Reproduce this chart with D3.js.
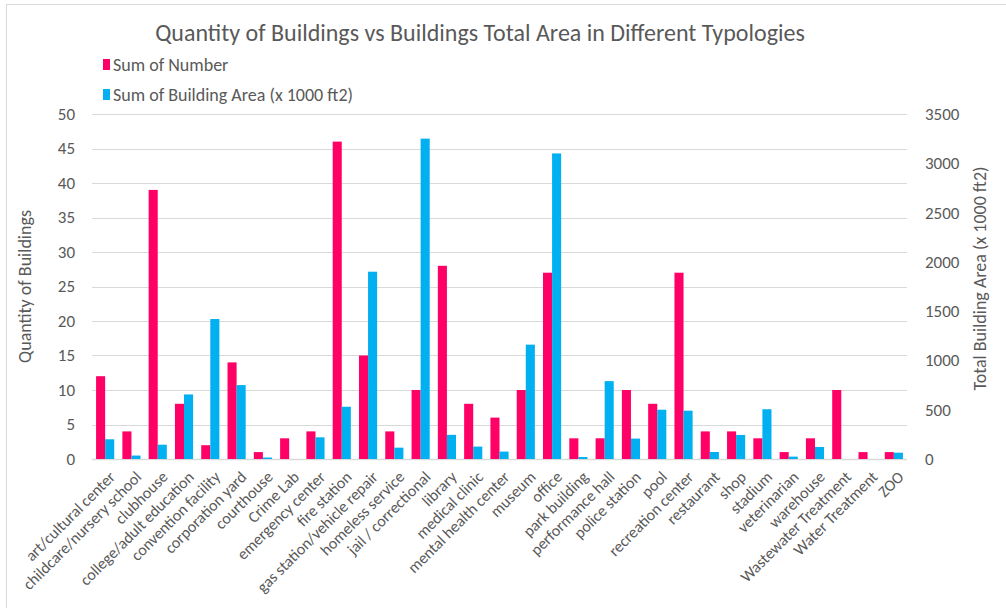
<!DOCTYPE html>
<html>
<head>
<meta charset="utf-8">
<script src="https://cdn.jsdelivr.net/npm/d3@7/dist/d3.min.js"></script>
<style>
  body { margin: 0; background: #fff; }
  svg text { font-family: Calibri, Carlito, Lato, sans-serif; fill: #595959; }
</style>
</head>
<body>
<svg id="chart"></svg>
<script>
let width = 1006;
let height = 608;
let plot = {'left': 92, 'right': 907, 'top': 114, 'bottom': 459};

let categories = ['art/cultural center','childcare/nursery school','clubhouse','college/adult education',
  'convention facility','corporation yard','courthouse','Crime Lab','emergency center','fire station',
  'gas station/vehicle repair','homeless service','jail / correctional','library','medical clinic',
  'mental health center','museum','office','park building','performance hall','police station','pool',
  'recreation center','restaurant','shop','stadium','veterinarian','warehouse','Wastewater Treatment',
  'Water Treatment','ZOO'];
let numberValues = [12,4,39,8,2,14,1,3,4,46,15,4,10,28,8,6,10,27,3,3,10,8,27,4,4,3,1,3,10,1,1];
let areaValues = [200,35,145,655,1420,750,15,0,220,530,1900,115,3250,245,126,75,1160,3100,20,790,207,500,490,71,244,505,24,122,0,0,64];
let leftTicks = [0,5,10,15,20,25,30,35,40,45,50];
let rightTicks = [0,500,1000,1500,2000,2500,3000,3500];
let seriesNames = ['Sum of Number','Sum of Building Area (x 1000 ft2)'];
let seriesColors = ['#ff0066','#00b0f0'];

let svg = d3.select('#chart').attr('width', width).attr('height', height);

// outer chart border (cut off at right/bottom in the reference)
svg.append('rect')
    .attr('x', 6.5).attr('y', 4.5)
    .attr('width', width + 10).attr('height', height + 10)
    .attr('fill', 'none').attr('stroke', '#d9d9d9').attr('stroke-width', 1);

let xScale = d3.scaleBand()
    .domain(categories)
    .range([plot.left, plot.right])
    .paddingInner(0.31)
    .paddingOuter(0.155);
let xInner = d3.scaleBand()
    .domain([0, 1])
    .range([0, xScale.bandwidth()]);
let yLeft = d3.scaleLinear().domain([0, 50]).range([plot.bottom, plot.top]);
let yRight = d3.scaleLinear().domain([0, 3500]).range([plot.bottom, plot.top]);

// gridlines
svg.append('g')
    .selectAll('line')
    .data(leftTicks)
    .join('line')
    .attr('x1', plot.left).attr('x2', plot.right)
    .attr('y1', d => Math.round(yLeft(d)) + 0.5)
    .attr('y2', d => Math.round(yLeft(d)) + 0.5)
    .attr('stroke', '#d9d9d9')
    .attr('stroke-width', d => d === 0 ? 1.5 : 1);

// bars
let rows = categories.map((c, i) => ({'cat': c, 'num': numberValues[i], 'area': areaValues[i]}));
let groups = svg.append('g')
    .selectAll('g')
    .data(rows)
    .join('g')
    .attr('transform', d => `translate(${xScale(d.cat)},0)`);
groups.append('rect')
    .attr('x', xInner(0))
    .attr('width', xInner.bandwidth())
    .attr('y', d => yLeft(d.num))
    .attr('height', d => plot.bottom - yLeft(d.num))
    .attr('fill', seriesColors[0]);
groups.append('rect')
    .attr('x', xInner(1))
    .attr('width', xInner.bandwidth())
    .attr('y', d => yRight(d.area))
    .attr('height', d => plot.bottom - yRight(d.area))
    .attr('fill', seriesColors[1]);

// left axis
let leftAxis = d3.axisLeft(yLeft).tickValues(leftTicks).tickSize(0).tickPadding(17);
let gl = svg.append('g').attr('transform', `translate(${plot.left},0)`).call(leftAxis);
gl.select('.domain').remove();
gl.selectAll('text').style('font-size', '17px').attr('fill', '#595959');

// right axis
let rightAxis = d3.axisRight(yRight).tickValues(rightTicks).tickFormat(d3.format('d')).tickSize(0).tickPadding(18);
let gr = svg.append('g').attr('transform', `translate(${plot.right},0)`).call(rightAxis);
gr.select('.domain').remove();
gr.selectAll('text').style('font-size', '17px').attr('fill', '#595959');

// x axis labels
let xAxis = d3.axisBottom(xScale).tickSize(0).tickPadding(0);
let gx = svg.append('g').attr('transform', `translate(0,${plot.bottom})`).call(xAxis);
gx.select('.domain').remove();
gx.selectAll('text')
    .style('font-size', '16px')
    .attr('fill', '#595959')
    .attr('text-anchor', 'end')
    .attr('dy', '0.35em')
    .attr('transform', 'translate(7,15) rotate(-45)');

// axis titles
svg.append('text')
    .attr('transform', `translate(31,${(plot.top + plot.bottom) / 2}) rotate(-90)`)
    .attr('text-anchor', 'middle')
    .style('font-size', '18px')
    .text('Quantity of Buildings');
svg.append('text')
    .attr('transform', `translate(986,${(plot.top + plot.bottom) / 2 - 8}) rotate(-90)`)
    .attr('text-anchor', 'middle')
    .style('font-size', '18px')
    .text('Total Building Area (x 1000 ft2)');

// title
svg.append('text')
    .attr('x', 480).attr('y', 41)
    .attr('text-anchor', 'middle')
    .style('font-size', '24px')
    .text('Quantity of Buildings vs Buildings Total Area in Different Typologies');

// legend
let legend = svg.append('g')
    .selectAll('g')
    .data(seriesNames)
    .join('g')
    .attr('transform', (d, i) => `translate(103,${59 + i * 30})`);
legend.append('rect')
    .attr('width', 7).attr('height', 11)
    .attr('fill', (d, i) => seriesColors[i]);
legend.append('text')
    .attr('x', 10).attr('y', 12)
    .style('font-size', '18px')
    .text(d => d);
</script>
</body>
</html>
